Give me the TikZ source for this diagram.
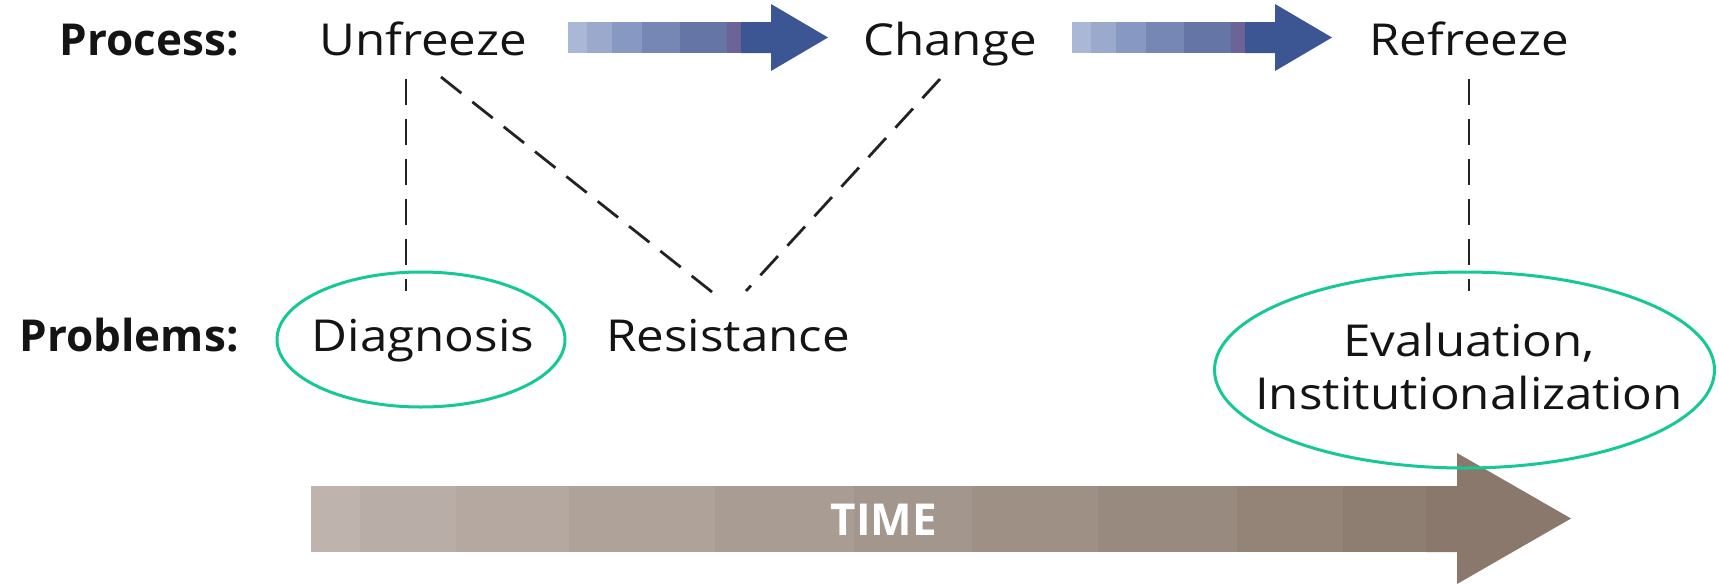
\documentclass[tikz,border=0pt]{standalone}
\usepackage{fontspec}
\setmainfont{Open Sans}
\newfontfamily\txtfont{Open Sans}[FakeStretch=1.12]
\newfontfamily\hdrfont{Open Sans}
\definecolor{ovalgreen}{RGB}{22,200,150}
\definecolor{txtc}{RGB}{20,20,20}
\definecolor{dashc}{RGB}{35,35,35}
\definecolor{bA}{RGB}{170,183,213}
\definecolor{bB}{RGB}{154,169,204}
\definecolor{bC}{RGB}{135,152,194}
\definecolor{bD}{RGB}{119,135,180}
\definecolor{bE}{RGB}{101,117,166}
\definecolor{bF}{RGB}{108,100,151}
\definecolor{bG}{RGB}{60,85,147}
\definecolor{tL}{RGB}{190,180,173}
\definecolor{tD}{RGB}{137,120,107}
\begin{document}
\begin{tikzpicture}[x=0.5pt,y=-0.5pt,
  lbl/.style={font=\txtfont\fontsize{22}{26.5}\selectfont, text=txtc, inner sep=0pt, anchor=base},
  hdr/.style={font=\hdrfont\bfseries\fontsize{22}{26.5}\selectfont, text=txtc, inner sep=0pt, anchor=base east},
  dsh/.style={draw=dashc, line width=1.4pt, dash pattern=on 13pt off 7pt},
  oval/.style={draw=ovalgreen, line width=1.5pt}]
\useasboundingbox (0,0) rectangle (1719,584);

% time arrow
\foreach \a/\b [count=\i from 0, evaluate=\i as \p using int(\i*10)] in
  {311/360,360/456,456/569,569/715,715/854,854/972,972/1098,1098/1237,1237/1343,1343/1426}
  {\fill[tD!\p!tL] (\a,486) rectangle (\b+1,552);}
\fill[tD] (1426,486) -- (1457,486) -- (1457,453) -- (1571,518.5) -- (1457,584) -- (1457,552) -- (1426,552) -- cycle;
\node[font=\hdrfont\bfseries\fontsize{22}{26}\selectfont, text=white, inner sep=0pt, anchor=base] (time) at (884,535) {TIME};

% process arrows
\foreach \s in {0,504}{
  \begin{scope}[xshift=\s*0.5pt]
  \foreach \a/\b/\c in {568/587/bA,587/612/bB,612/642/bC,642/680/bD,680/727/bE,727/741/bF}
    {\fill[\c] (\a,22) rectangle (\b+1,53);}
  \fill[bG] (741,22) -- (771,22) -- (771,4) -- (828,37.5) -- (771,71) -- (771,53) -- (741,53) -- cycle;
  \end{scope}}

% labels
\node[hdr] (process) at (239,55) {Process:};
\node[lbl] (unfreeze) at (423,55) {Unfreeze};
\node[lbl] (change) at (950,55) {Change};
\node[lbl] (refreeze) at (1469,55) {Refreeze};
\node[hdr] (problems) at (239,351) {Problems:};
\node[lbl] (diagnosis) at (423,351) {Diagnosis};
\node[lbl] (resistance) at (728,351) {Resistance};
\node[lbl, align=center, anchor=south, text depth=0pt] (evaluation) at (1469,410) {Evaluation,\\Institutionalization};

% ovals
\draw[oval] (421,339.5) ellipse [x radius=72pt, y radius=33.75pt];
\draw[oval] (1464.5,370) ellipse [x radius=125pt, y radius=49pt];

% dashed connectors
\coordinate (u1) at (406,79);
\coordinate (u2) at (441,77);
\coordinate (c1) at (940,79);
\coordinate (r1) at (1469,79);
\coordinate (d1) at (406,291);
\coordinate (s1) at (712,292);
\coordinate (s2) at (746,291);
\coordinate (e1) at (1469,291);
\draw[dsh] (u1) -- (d1);
\draw[dsh] (u2) -- (s1);
\draw[dsh] (c1) -- (s2);
\draw[dsh] (r1) -- (e1);
\end{tikzpicture}
\end{document}
